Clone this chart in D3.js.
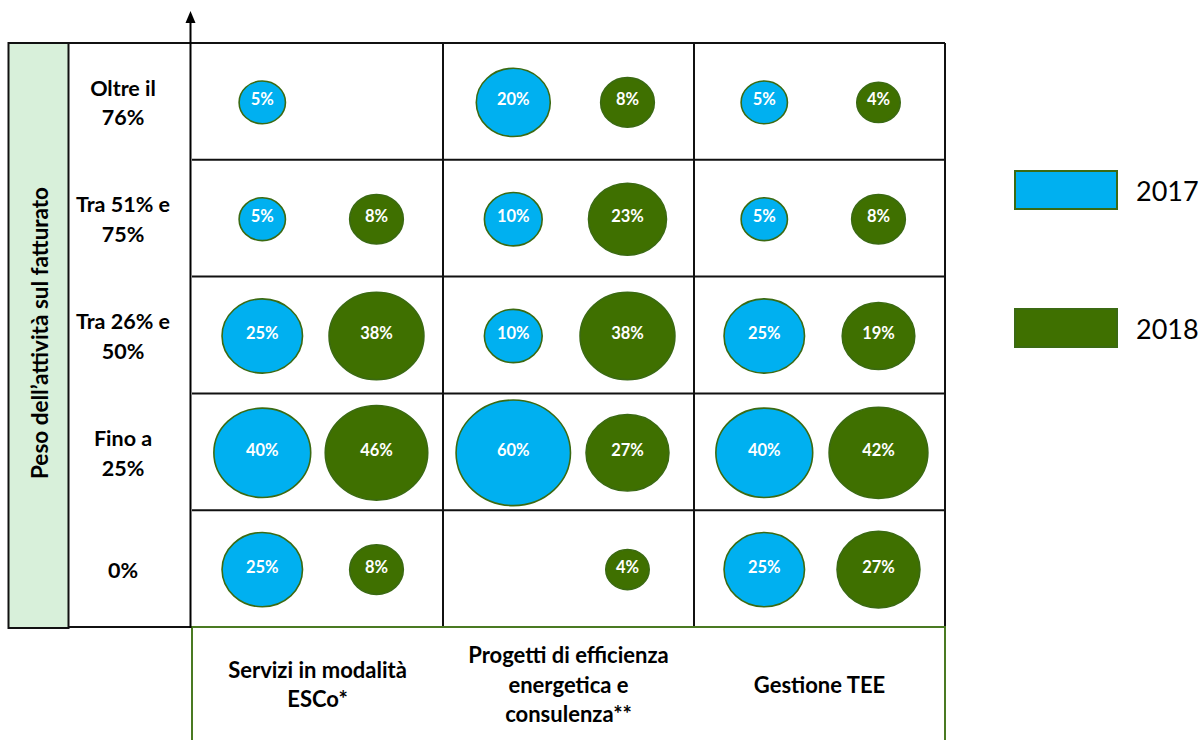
<!DOCTYPE html>
<html>
<head>
<meta charset="utf-8">
<script src="https://cdn.jsdelivr.net/npm/d3@7"></script>
<style>
  body { margin: 0; background: #fff; }
  svg { display: block; }
  text { font-family: Lato, "Open Sans", sans-serif; }
</style>
</head>
<body>
<svg id="chart" width="1204" height="740"></svg>
<script>
// Row bands (top to bottom) and activity columns, one line per array entry
const rowLabels = [["Oltre il", "76%"], ["Tra 51% e", "75%"], ["Tra 26% e", "50%"], ["Fino a", "25%"], ["0%"]];
const columnLabels = [["Servizi in modalità", "ESCo*"], ["Progetti di efficienza", "energetica e", "consulenza**"], ["Gestione TEE"]];
const years = ["2017", "2018"];
const axisTitle = "Peso dell’attività sul fatturato";

// Share of companies (%) in each band, rows top to bottom; null = no bubble
const esco2017 = [5, 5, 25, 40, 25];
const esco2018 = [null, 8, 38, 46, 8];
const progetti2017 = [20, 10, 10, 60, null];
const progetti2018 = [8, 23, 38, 27, 4];
const tee2017 = [5, 5, 25, 40, 25];
const tee2018 = [4, 8, 19, 42, 27];

const seriesByColumn = [
  { "2017": esco2017, "2018": esco2018 },
  { "2017": progetti2017, "2018": progetti2018 },
  { "2017": tee2017, "2018": tee2018 }
];

const fills = { "2017": "#00b0f0", "2018": "#3f7000" };
const bubbleStroke = "#3b6a12";

const svg = d3.select("#chart");

const x = d3.scaleBand().domain(d3.range(columnLabels.length)).range([192, 945]);
const y = d3.scaleBand().domain(d3.range(rowLabels.length)).range([43, 627]);
const xYear = d3.scalePoint().domain(years).range([x.bandwidth() * 0.28, x.bandwidth() * 0.735]);
const r = d3.scaleSqrt().domain([0, 60]).range([9, 55]);

const boxLeft = 8.5, titleRight = 68.5, gridLeft = x.range()[0], gridRight = x.range()[1];
const gridTop = y.range()[0], gridBottom = y.range()[1];

// Side title box
svg.append("rect")
  .attr("x", boxLeft).attr("y", gridTop)
  .attr("width", titleRight - boxLeft).attr("height", gridBottom - gridTop + 1)
  .attr("fill", "#d8f0da").attr("stroke", "#111").attr("stroke-width", 2);

svg.append("text")
  .attr("transform", `translate(${(boxLeft + titleRight) / 2 + 1},${(gridTop + gridBottom) / 2 - 2}) rotate(-90)`)
  .attr("text-anchor", "middle").attr("dominant-baseline", "central")
  .attr("font-weight", 700).attr("font-size", 22.5).attr("fill", "#000")
  .text(axisTitle);

// Grid lines
const grid = svg.append("g").attr("stroke", "#111").attr("stroke-width", 2);
grid.append("line").attr("x1", boxLeft).attr("x2", gridRight).attr("y1", gridTop).attr("y2", gridTop);
grid.append("line").attr("x1", titleRight).attr("x2", gridLeft).attr("y1", gridBottom).attr("y2", gridBottom);
grid.selectAll("line.h").data(d3.range(1, rowLabels.length)).join("line")
  .attr("class", "h")
  .attr("x1", gridLeft).attr("x2", gridRight)
  .attr("y1", d => y(d)).attr("y2", d => y(d));
grid.selectAll("line.v").data(d3.range(1, columnLabels.length)).join("line")
  .attr("class", "v")
  .attr("x1", d => x(d)).attr("x2", d => x(d))
  .attr("y1", gridTop).attr("y2", gridBottom);
grid.append("line").attr("x1", gridRight).attr("x2", gridRight).attr("y1", gridTop).attr("y2", gridBottom);

// Column label box
svg.append("rect")
  .attr("x", gridLeft).attr("y", gridBottom)
  .attr("width", gridRight - gridLeft).attr("height", 130)
  .attr("fill", "none").attr("stroke", "#4a7a22").attr("stroke-width", 2);

// Vertical axis with arrow
const axisX = 190.5;
svg.append("line")
  .attr("x1", axisX).attr("x2", axisX).attr("y1", gridBottom + 1).attr("y2", 20)
  .attr("stroke", "#000").attr("stroke-width", 2);
svg.append("path")
  .attr("d", d3.line()([[axisX, 11], [axisX - 5, 23], [axisX + 5, 23]]) + "Z")
  .attr("fill", "#000");

// Row labels
const lineGap = 29.5;
const rowG = svg.selectAll("g.row").data(rowLabels).join("g")
  .attr("class", "row")
  .attr("transform", (d, i) => `translate(123,${y(i) + y.bandwidth() / 2 + 1})`);
rowG.selectAll("text").data(d => d.map((t, k) => ({ t, k, n: d.length }))).join("text")
  .attr("y", d => (d.k - (d.n - 1) / 2) * lineGap)
  .attr("text-anchor", "middle").attr("dominant-baseline", "central")
  .attr("font-weight", 700).attr("font-size", 21.5).attr("fill", "#000")
  .text(d => d.t);

// Column labels
const colG = svg.selectAll("g.col").data(columnLabels).join("g")
  .attr("class", "col")
  .attr("transform", (d, i) => `translate(${x(i) + x.bandwidth() / 2},684)`);
colG.selectAll("text").data(d => d.map((t, k) => ({ t, k, n: d.length }))).join("text")
  .attr("y", d => (d.k - (d.n - 1) / 2) * lineGap)
  .attr("text-anchor", "middle").attr("dominant-baseline", "central")
  .attr("font-weight", 700).attr("font-size", 22).attr("fill", "#000")
  .text(d => d.t);

// Bubbles
const bubbles = [];
seriesByColumn.forEach((s, c) => {
  years.forEach(yr => {
    s[yr].forEach((v, row) => {
      if (v != null) bubbles.push({ c, row, yr, v });
    });
  });
});

const bG = svg.selectAll("g.bubble").data(bubbles).join("g")
  .attr("class", "bubble")
  .attr("transform", d => `translate(${x(d.c) + xYear(d.yr)},${y(d.row) + y.bandwidth() / 2 + 1})`);
bG.append("ellipse")
  .attr("rx", d => r(d.v) * 1.04)
  .attr("ry", d => r(d.v) * 0.96)
  .attr("fill", d => fills[d.yr])
  .attr("stroke", bubbleStroke).attr("stroke-width", 1.6);
bG.append("text")
  .attr("y", -3)
  .attr("text-anchor", "middle").attr("dominant-baseline", "central")
  .attr("font-weight", 700).attr("font-size", 16.5).attr("fill", "#fff")
  .text(d => d.v + "%");

// Legend
const legendY = d3.scalePoint().domain(years).range([171, 309]);
const lg = svg.selectAll("g.legend").data(years).join("g")
  .attr("class", "legend")
  .attr("transform", d => `translate(1015,${legendY(d)})`);
lg.append("rect")
  .attr("width", 102).attr("height", 38)
  .attr("fill", d => fills[d])
  .attr("stroke", bubbleStroke).attr("stroke-width", 2);
lg.append("text")
  .attr("x", 121).attr("y", 19)
  .attr("dominant-baseline", "central")
  .attr("font-size", 27).attr("fill", "#000")
  .text(d => d);
</script>
</body>
</html>
